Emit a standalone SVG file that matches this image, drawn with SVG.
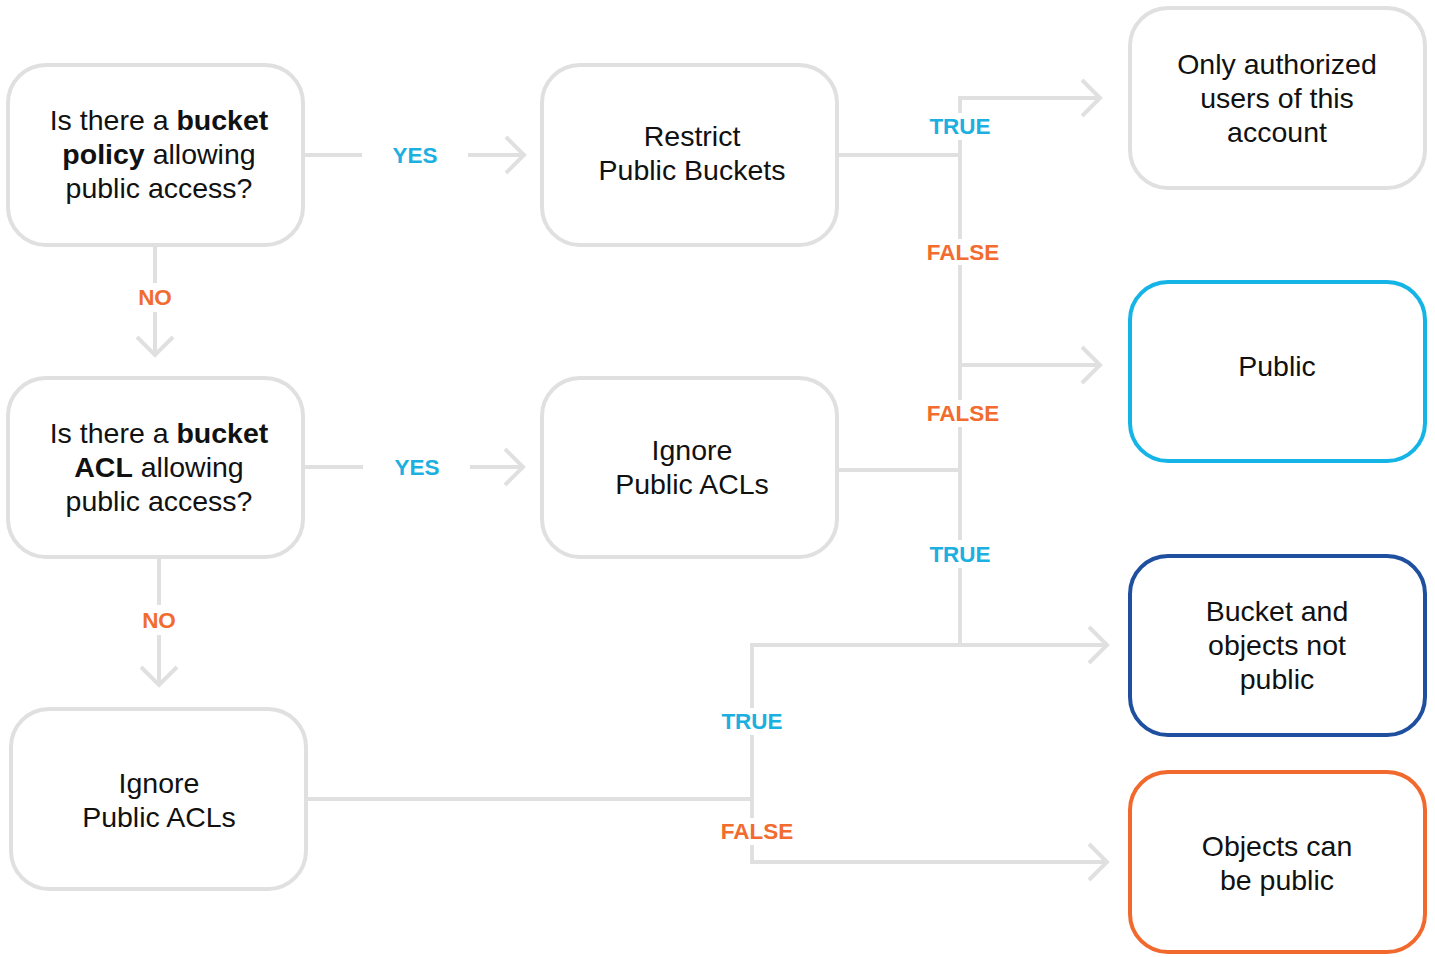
<svg xmlns="http://www.w3.org/2000/svg" width="1435" height="957" viewBox="0 0 1435 957">
<defs>
<style>
.box{fill:#fff;stroke:#e0e0e0;stroke-width:4}
.t{font-family:"Liberation Sans",Arial,sans-serif;font-size:28.5px;fill:#111;text-anchor:middle}
.b{font-weight:bold}
.c{fill:none;stroke:#e0e0e0;stroke-width:4}
.lbl{font-family:"Liberation Sans",Arial,sans-serif;font-size:22.5px;font-weight:bold;text-anchor:middle}
.yes{fill:#1cb0e0}
.no{fill:#f26b2f}
</style>
</defs>
<rect width="1435" height="957" fill="#fff"/>
<g id="connectors">
<path class="c" d="M303 155H362M468 155H524M506 137L524 155L506 173"/>
<path class="c" d="M155 245V283M155 312V355M137 337L155 355L173 337"/>
<path class="c" d="M303 467H363M470 467H523M505 449L523 467L505 485"/>
<path class="c" d="M159 557V605M159 635V685M141 667L159 685L177 667"/>
<path class="c" d="M837 155H960M960 113V98H1100M1082 80L1100 98L1082 116"/>
<path class="c" d="M960 140V239M960 265V400M960 427V540M960 568V645"/>
<path class="c" d="M960 365H1100M1082 347L1100 365L1082 383"/>
<path class="c" d="M837 470H960"/>
<path class="c" d="M752 708V645H1107M1089 627L1107 645L1089 663"/>
<path class="c" d="M306 799H752M752 735V818M752 845V862H1107M1089 844L1107 862L1089 880"/>
<text class="lbl yes" x="415" y="163">YES</text>
<text class="lbl no" x="155" y="305">NO</text>
<text class="lbl yes" x="417" y="475">YES</text>
<text class="lbl no" x="159" y="628">NO</text>
<text class="lbl yes" x="960" y="134">TRUE</text>
<text class="lbl no" x="963" y="260">FALSE</text>
<text class="lbl no" x="963" y="421">FALSE</text>
<text class="lbl yes" x="960" y="562">TRUE</text>
<text class="lbl yes" x="752" y="729">TRUE</text>
<text class="lbl no" x="757" y="839">FALSE</text>
</g>
<g id="q1">
<rect class="box" x="8" y="65" width="295" height="180" rx="38"/>
<text class="t" x="159" y="130">Is there a <tspan class="b">bucket</tspan></text>
<text class="t" x="159" y="164"><tspan class="b">policy</tspan> allowing</text>
<text class="t" x="159" y="198">public access?</text>
</g>
<g id="restrict">
<rect class="box" x="542" y="65" width="295" height="180" rx="38"/>
<text class="t" x="692" y="146">Restrict</text>
<text class="t" x="692" y="180">Public Buckets</text>
</g>
<g id="q2">
<rect class="box" x="8" y="378" width="295" height="179" rx="38"/>
<text class="t" x="159" y="443">Is there a <tspan class="b">bucket</tspan></text>
<text class="t" x="159" y="477"><tspan class="b">ACL</tspan> allowing</text>
<text class="t" x="159" y="511">public access?</text>
</g>
<g id="ignore1">
<rect class="box" x="542" y="378" width="295" height="179" rx="38"/>
<text class="t" x="692" y="460">Ignore</text>
<text class="t" x="692" y="494">Public ACLs</text>
</g>
<g id="ignore2">
<rect class="box" x="11" y="709" width="295" height="180" rx="38"/>
<text class="t" x="159" y="793">Ignore</text>
<text class="t" x="159" y="827">Public ACLs</text>
</g>
<g id="authorized">
<rect class="box" x="1130" y="8" width="295" height="180" rx="38"/>
<text class="t" x="1277" y="74">Only authorized</text>
<text class="t" x="1277" y="108">users of this</text>
<text class="t" x="1277" y="142">account</text>
</g>
<g id="public">
<rect class="box" x="1130" y="282" width="295" height="179" rx="38" style="stroke:#14b4e6"/>
<text class="t" x="1277" y="376">Public</text>
</g>
<g id="notpublic">
<rect class="box" x="1130" y="556" width="295" height="179" rx="38" style="stroke:#1f4f9f"/>
<text class="t" x="1277" y="621">Bucket and</text>
<text class="t" x="1277" y="655">objects not</text>
<text class="t" x="1277" y="689">public</text>
</g>
<g id="objpublic">
<rect class="box" x="1130" y="772" width="295" height="180" rx="38" style="stroke:#f2692e"/>
<text class="t" x="1277" y="856">Objects can</text>
<text class="t" x="1277" y="890">be public</text>
</g>
</svg>
